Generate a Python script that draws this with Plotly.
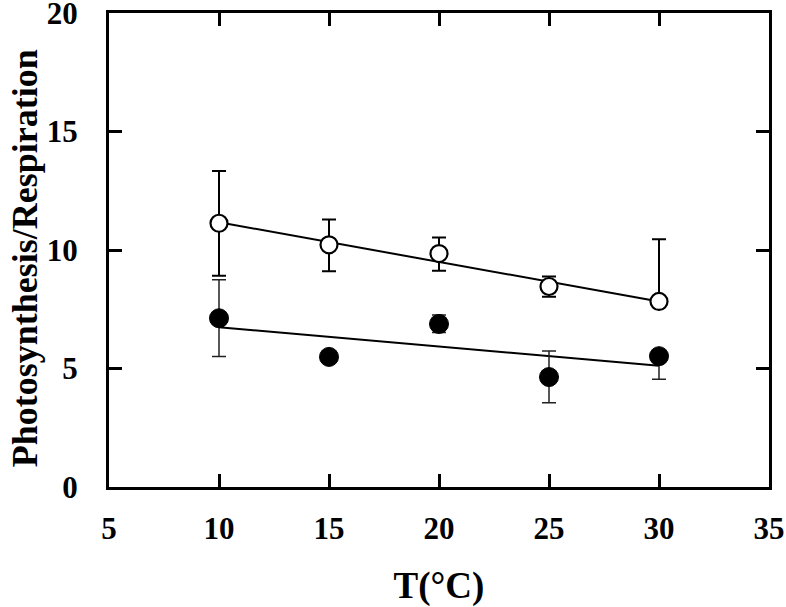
import numpy as np
import plotly.graph_objects as go

temps = [10, 15, 20, 25, 30]
open_vals = [11.13, 10.22, 9.85, 8.46, 7.83]
open_err_up = [2.2, 1.07, 0.68, 0.42, 2.62]
open_err_down = [2.22, 1.12, 0.72, 0.43, 0.0]
filled_vals = [7.12, 5.49, 6.88, 4.64, 5.52]
filled_err_up = [1.62, 0.1, 0.38, 1.1, 0.0]
filled_err_down = [1.61, 0.1, 0.36, 1.09, 0.97]
x_ticks = [5, 10, 15, 20, 25, 30, 35]
y_ticks = [0, 5, 10, 15, 20]

FONT = "Liberation Serif"

fig = go.Figure()

# regression lines
for vals in (open_vals, filled_vals):
    slope, icpt = np.polyfit(temps, vals, 1)
    xs = [temps[0], temps[-1]]
    fig.add_trace(go.Scatter(
        x=xs, y=[slope * v + icpt for v in xs], mode="lines",
        line=dict(color="black", width=2), showlegend=False, hoverinfo="skip"))

fig.add_trace(go.Scatter(
    x=temps, y=filled_vals, mode="markers",
    marker=dict(symbol="circle", size=19, color="black", line=dict(color="black", width=1)),
    error_y=dict(type="data", symmetric=False, array=filled_err_up, arrayminus=filled_err_down,
                 color="#222222", thickness=1.5, width=7),
    showlegend=False))

fig.add_trace(go.Scatter(
    x=temps, y=open_vals, mode="markers",
    marker=dict(symbol="circle", size=17, color="white", line=dict(color="black", width=2.2)),
    error_y=dict(type="data", symmetric=False, array=open_err_up, arrayminus=open_err_down,
                 color="black", thickness=2, width=7),
    showlegend=False))

axis_common = dict(
    showline=True, linecolor="black", linewidth=3, mirror="ticks",
    ticks="inside", ticklen=13, tickwidth=3, tickcolor="black",
    showgrid=False, zeroline=False, ticklabeloverflow="allow", automargin=False,
    tickfont=dict(family=FONT, size=31, color="black", weight="bold"),
)

fig.update_xaxes(
    range=[5, 35], tickvals=x_ticks, ticktext=[str(v) for v in x_ticks],
    ticklabelstandoff=12,
    title=dict(text="T(°C)", font=dict(family=FONT, size=37, color="black", weight="bold"),
               standoff=28),
    **axis_common)
fig.update_yaxes(
    range=[0, 20.001], tickvals=y_ticks, ticktext=[str(v) for v in y_ticks],
    ticklabelstandoff=22,
    **axis_common)

fig.add_annotation(
    text="Photosynthesis/Respiration", textangle=-90,
    xref="paper", yref="paper", x=-0.127, y=0.5, xanchor="center", yanchor="middle",
    yshift=-8, showarrow=False,
    font=dict(family=FONT, size=36, color="black", weight="bold"))

fig.update_layout(
    width=786, height=607,
    margin=dict(l=109, r=17, t=13, b=120),
    plot_bgcolor="white", paper_bgcolor="white",
)

fig.write_html("out.html", config={"displayModeBar": False},
               post_script="document.body.style.margin='0';")
